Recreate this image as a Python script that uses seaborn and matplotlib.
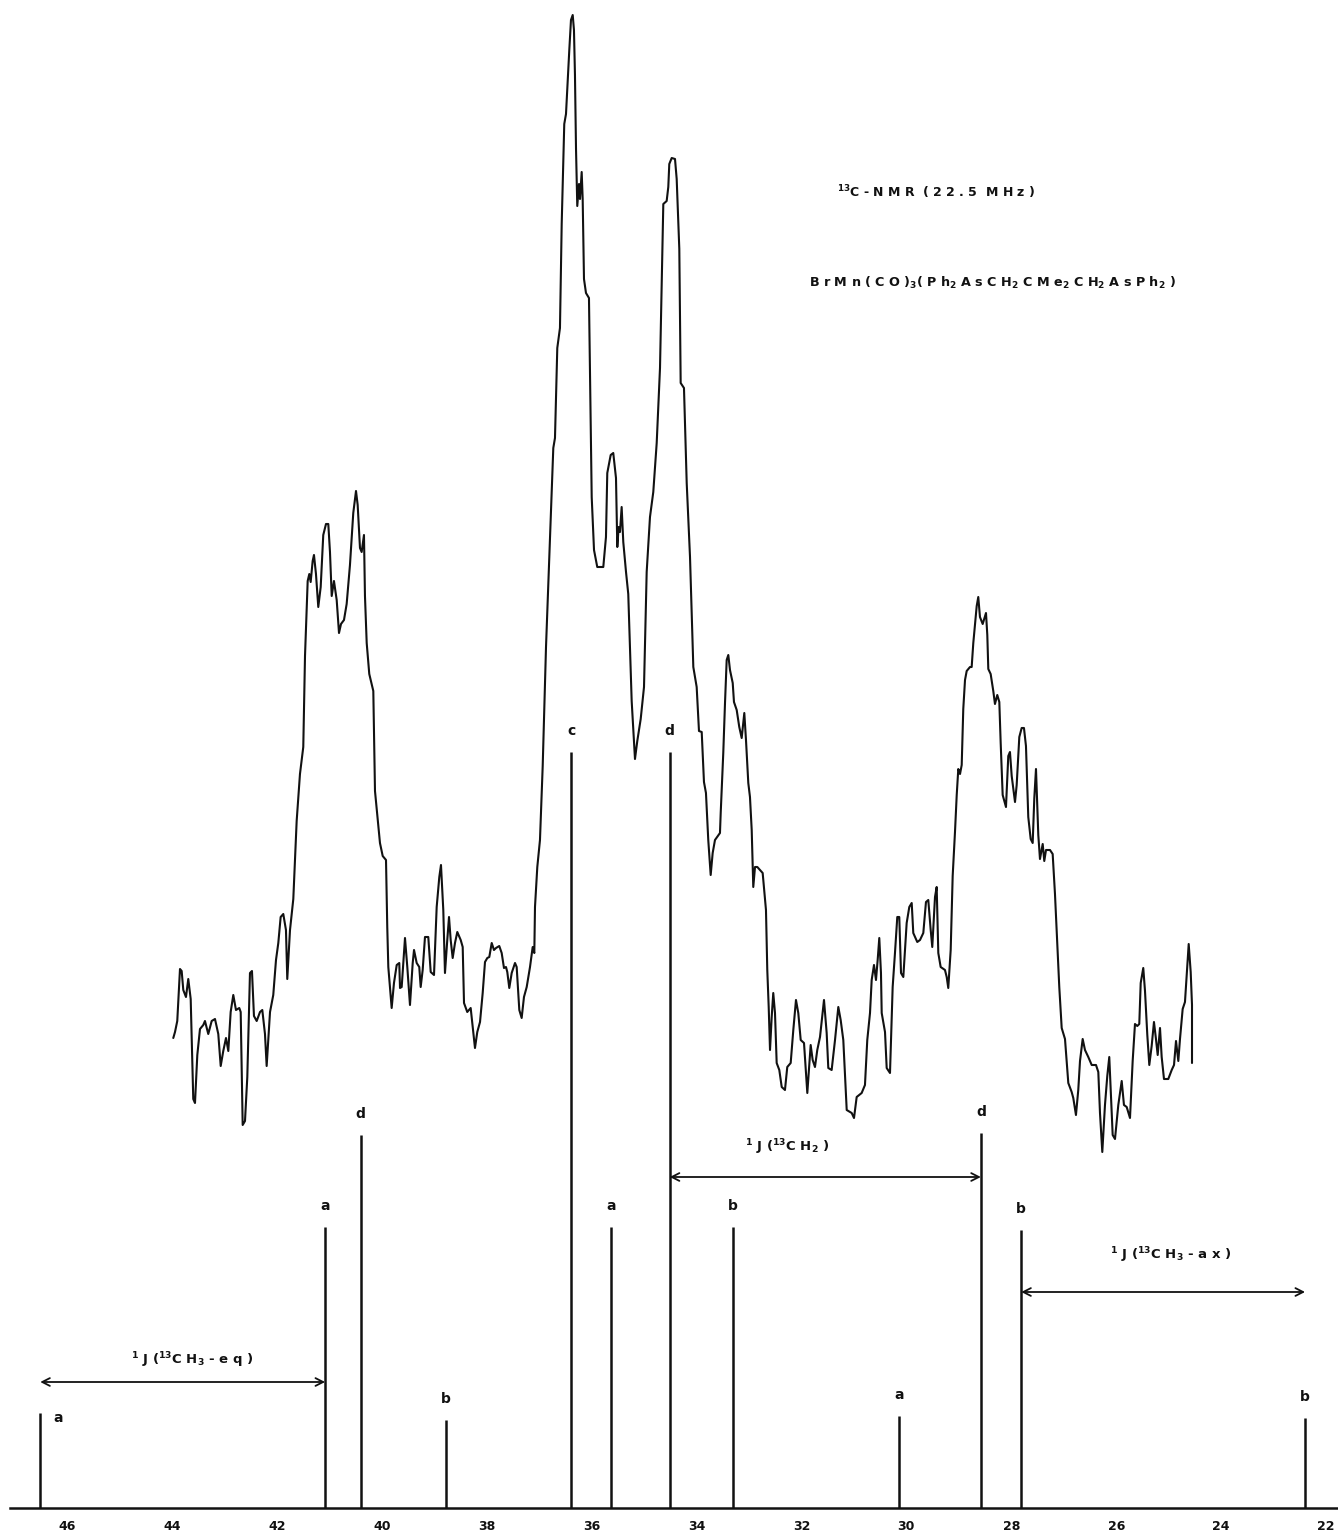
import numpy as np
import pandas as pd
import matplotlib
matplotlib.use("Agg")
import matplotlib.pyplot as plt
import seaborn as sns

# ---------------------------------------------------------------------------
# 13C-NMR trace of BrMn(CO)3(Ph2AsCH2CMe2CH2AsPh2), chemical shift in ppm
# ---------------------------------------------------------------------------
trace_ppm = [
    43.974, 43.941, 43.898, 43.846, 43.814, 43.783, 43.732, 43.688, 43.642, 43.593,
    43.560, 43.516, 43.465, 43.402, 43.370, 43.307, 43.242, 43.179, 43.116, 43.070,
    43.021, 42.969, 42.925, 42.880, 42.830, 42.779, 42.716, 42.689, 42.651, 42.607,
    42.563, 42.512, 42.474, 42.436, 42.384, 42.321, 42.277, 42.226, 42.194, 42.155,
    42.130, 42.068, 42.016, 41.972, 41.927, 41.877, 41.826, 41.801, 41.749, 41.686,
    41.622, 41.559, 41.496, 41.463, 41.412, 41.381, 41.355, 41.317, 41.292, 41.254,
    41.210, 41.164, 41.115, 41.063, 41.019, 40.987, 40.954, 40.911, 40.859, 40.815,
    40.777, 40.720, 40.669, 40.606, 40.543, 40.491, 40.459, 40.415, 40.383, 40.339,
    40.320, 40.287, 40.238, 40.161, 40.129, 40.034, 39.982, 39.919, 39.895, 39.875,
    39.811, 39.767, 39.715, 39.666, 39.652, 39.620, 39.557, 39.513, 39.462, 39.410,
    39.385, 39.334, 39.285, 39.258, 39.220, 39.176, 39.113, 39.067, 39.004, 38.953,
    38.903, 38.871, 38.827, 38.795, 38.751, 38.718, 38.686, 38.648, 38.604, 38.560,
    38.495, 38.457, 38.432, 38.370, 38.305, 38.267, 38.223, 38.179, 38.127, 38.076,
    38.032, 37.988, 37.950, 37.904, 37.861, 37.822, 37.760, 37.714, 37.670, 37.632,
    37.607, 37.569, 37.523, 37.460, 37.428, 37.378, 37.333, 37.289, 37.237, 37.174,
    37.123, 37.092, 37.079, 37.035, 36.984, 36.932, 36.869, 36.806, 36.730, 36.698,
    36.654, 36.603, 36.570, 36.521, 36.488, 36.425, 36.393, 36.360, 36.336, 36.317,
    36.297, 36.273, 36.240, 36.221, 36.189, 36.170, 36.145, 36.107, 36.050, 36.017,
    35.998, 35.954, 35.892, 35.777, 35.726, 35.701, 35.636, 35.587, 35.535, 35.510,
    35.484, 35.459, 35.427, 35.396, 35.344, 35.301, 35.236, 35.173, 35.129, 35.064,
    35.001, 34.950, 34.887, 34.824, 34.759, 34.696, 34.633, 34.569, 34.538, 34.519,
    34.473, 34.410, 34.378, 34.328, 34.302, 34.239, 34.187, 34.124, 34.061, 33.997,
    33.953, 33.901, 33.858, 33.820, 33.776, 33.730, 33.692, 33.648, 33.553, 33.539,
    33.490, 33.457, 33.425, 33.394, 33.362, 33.310, 33.286, 33.234, 33.185, 33.139,
    33.089, 33.057, 33.013, 32.981, 32.948, 32.918, 32.885, 32.841, 32.739, 32.676,
    32.651, 32.624, 32.599, 32.567, 32.537, 32.504, 32.472, 32.422, 32.376, 32.314,
    32.270, 32.205, 32.155, 32.104, 32.060, 32.014, 31.951, 31.888, 31.824, 31.786,
    31.742, 31.698, 31.646, 31.570, 31.519, 31.488, 31.424, 31.360, 31.297, 31.252,
    31.202, 31.137, 31.042, 30.998, 30.947, 30.852, 30.789, 30.745, 30.693, 30.661,
    30.617, 30.579, 30.547, 30.516, 30.484, 30.470, 30.407, 30.375, 30.312, 30.261,
    30.217, 30.173, 30.135, 30.102, 30.058, 29.994, 29.944, 29.898, 29.868, 29.792,
    29.740, 29.677, 29.626, 29.582, 29.536, 29.506, 29.454, 29.422, 29.391, 29.346,
    29.264, 29.231, 29.201, 29.155, 29.117, 29.073, 29.040, 29.010, 28.977, 28.945,
    28.915, 28.882, 28.850, 28.787, 28.755, 28.724, 28.659, 28.629, 28.597, 28.545,
    28.482, 28.457, 28.438, 28.393, 28.343, 28.311, 28.267, 28.228, 28.202, 28.164,
    28.101, 28.057, 28.025, 27.992, 27.929, 27.897, 27.847, 27.802, 27.758, 27.720,
    27.676, 27.630, 27.592, 27.561, 27.529, 27.485, 27.453, 27.401, 27.371, 27.338,
    27.262, 27.211, 27.167, 27.135, 27.085, 27.039, 26.976, 26.913, 26.849, 26.818,
    26.767, 26.723, 26.690, 26.639, 26.595, 26.532, 26.467, 26.385, 26.341, 26.309,
    26.265, 26.214, 26.170, 26.132, 26.105, 26.067, 26.023, 25.960, 25.895, 25.852,
    25.800, 25.737, 25.686, 25.642, 25.598, 25.560, 25.533, 25.484, 25.451, 25.407,
    25.369, 25.324, 25.280, 25.242, 25.209, 25.165, 25.133, 25.089, 25.007, 24.942,
    24.898, 24.860, 24.816, 24.784, 24.733, 24.689, 24.645, 24.618, 24.580, 24.555,
    24.555,
]

trace_intensity = [
    47.0, 47.6, 48.7, 53.9, 53.7, 51.8, 51.1, 52.9, 50.9, 40.9,
    40.5, 45.3, 47.9, 48.3, 48.7, 47.4, 48.7, 48.9, 47.4, 44.2,
    45.7, 47.0, 45.7, 49.6, 51.3, 49.8, 50.0, 49.6, 38.3, 38.7,
    43.1, 53.5, 53.7, 49.2, 48.7, 49.6, 49.8, 47.4, 44.2, 47.4,
    49.6, 51.3, 54.8, 56.5, 59.1, 59.4, 57.8, 52.9, 57.8, 60.9,
    68.7, 73.4, 76.1, 85.2, 92.7, 93.4, 92.6, 94.7, 95.3, 93.4,
    90.1, 92.1, 97.3, 98.4, 98.4, 95.6, 91.2, 92.7, 90.8, 87.5,
    88.4, 88.8, 90.4, 94.3, 99.5, 101.7, 100.3, 96.0, 95.6, 97.3,
    91.2, 86.5, 83.4, 81.7, 71.7, 66.5, 65.2, 64.8, 58.1, 54.1,
    50.0, 52.5, 54.3, 54.5, 52.0, 52.1, 57.0, 54.1, 50.3, 54.5,
    55.8, 54.5, 54.1, 52.1, 53.8, 57.1, 57.1, 53.6, 53.3, 60.1,
    63.1, 64.3, 59.8, 53.5, 56.8, 59.1, 56.8, 55.0, 56.5, 57.6,
    56.8, 56.1, 50.5, 49.6, 50.0, 48.1, 46.0, 47.6, 48.6, 51.5,
    54.6, 55.0, 55.1, 56.5, 55.8, 56.0, 56.2, 55.5, 54.0, 54.1,
    53.6, 52.0, 53.5, 54.5, 54.1, 49.8, 49.0, 51.1, 52.1, 54.1,
    56.1, 55.5, 60.1, 64.1, 66.8, 74.2, 86.1, 95.1, 106.0, 107.0,
    116.0, 118.0, 128.4, 138.4, 139.4, 145.8, 148.8, 149.3, 147.8, 143.3,
    135.9, 130.2, 132.4, 130.9, 133.6, 130.9, 122.9, 121.5, 121.0, 108.5,
    101.1, 95.8, 94.1, 94.1, 97.1, 103.5, 105.3, 105.5, 103.0, 96.1,
    98.1, 97.6, 100.1, 96.6, 93.6, 91.4, 80.7, 74.9, 76.7, 78.9,
    82.1, 93.6, 99.1, 101.6, 106.5, 114.0, 130.4, 130.7, 132.1, 134.4,
    135.0, 134.9, 132.9, 125.9, 112.5, 112.0, 102.5, 95.1, 84.1, 82.1,
    77.7, 77.6, 72.6, 71.5, 66.8, 63.3, 65.5, 66.8, 67.5, 69.5,
    75.5, 80.5, 84.8, 85.3, 83.8, 82.5, 80.6, 79.8, 78.1, 77.0,
    79.5, 76.8, 72.5, 71.1, 67.8, 62.1, 64.1, 64.1, 63.5, 59.8,
    53.8, 50.1, 45.8, 49.1, 51.5, 49.5, 44.5, 43.8, 42.1, 41.8,
    44.1, 44.5, 47.8, 50.8, 49.5, 46.8, 46.5, 41.5, 46.3, 44.8,
    44.1, 45.8, 47.1, 50.8, 47.5, 44.0, 43.8, 46.8, 50.1, 48.8,
    46.8, 39.8, 39.5, 39.0, 41.1, 41.5, 42.3, 46.8, 49.5, 52.8,
    54.3, 52.8, 54.8, 57.0, 53.5, 49.5, 47.6, 44.0, 43.5, 52.1,
    55.5, 59.1, 59.1, 53.5, 53.1, 58.5, 60.1, 60.5, 57.5, 56.6,
    56.8, 57.5, 60.6, 60.8, 57.8, 56.1, 61.1, 62.1, 55.5, 54.1,
    53.8, 53.1, 52.0, 55.8, 63.2, 67.6, 71.3, 73.9, 73.4, 74.3,
    79.9, 82.8, 83.7, 84.1, 84.1, 86.5, 90.2, 91.1, 89.1, 88.4,
    89.5, 87.3, 83.9, 83.4, 81.7, 80.4, 81.3, 80.6, 76.5, 71.3,
    70.1, 75.2, 75.6, 73.2, 70.6, 72.3, 77.1, 78.0, 78.0, 76.2,
    69.1, 66.9, 66.5, 71.0, 73.9, 67.3, 64.9, 66.4, 64.7, 65.8,
    65.8, 65.4, 61.4, 57.7, 52.1, 48.0, 46.9, 42.5, 41.6, 41.0,
    39.3, 41.8, 44.7, 46.9, 45.8, 45.1, 44.3, 44.3, 43.6, 39.5,
    35.6, 40.3, 43.2, 45.1, 41.8, 37.3, 36.9, 40.3, 42.7, 40.3,
    40.1, 39.0, 44.7, 48.4, 48.2, 48.4, 52.5, 54.0, 51.7, 47.3,
    44.3, 46.2, 48.6, 46.9, 45.3, 48.0, 45.1, 42.9, 42.9, 43.8,
    44.3, 46.7, 44.7, 46.9, 49.9, 50.6, 54.3, 56.4, 53.6, 50.3,
    44.5,
]

# Stick spectrum: computed line positions, heights and assignments
stick_ppm = [46.51, 41.08, 40.40, 38.78, 36.39, 35.63, 34.51, 33.30, 30.14, 28.58, 27.81, 22.40]
stick_height = [9.5, 28.1, 37.3, 8.8, 75.6, 28.1, 75.6, 28.1, 9.2, 37.5, 27.8, 9.0]
stick_label = ["a", "a", "d", "b", "c", "a", "d", "b", "a", "d", "b", "b"]

# One-bond couplings marked between satellite lines
coupling_from = [46.51, 34.51, 27.81]
coupling_to = [41.08, 28.58, 22.40]
coupling_level = [12.6, 33.1, 21.6]
coupling_text = [
    "$^{1}$ J ($^{1 3}$C H$_{3}$ - e q )",
    "$^{1}$ J ($^{1 3}$C H$_{2}$ )",
    "$^{1}$ J ($^{1 3}$C H$_{3}$ - a x )",
]
coupling_text_pos = [(43.62, 14.8), (32.28, 36.1), (24.96, 25.3)]

tick_values = list(range(46, 21, -2))

# ---------------------------------------------------------------------------
sns.set_style("white")
plt.rcParams["font.family"] = ["DejaVu Sans"]
plt.rcParams["mathtext.default"] = "regular"

W, H = 1338, 1537
fig = plt.figure(figsize=(W / 100, H / 100), dpi=100)
fig.patch.set_facecolor("white")

base_px = 1508
ax = fig.add_axes([0, (H - base_px) / H, 1, base_px / H])
ax.set_facecolor("white")

df = pd.DataFrame({"shift": trace_ppm, "intensity": trace_intensity})
sns.lineplot(data=df, x="shift", y="intensity", sort=False, estimator=None,
             color="#111111", linewidth=1.5, ax=ax)

ax.vlines(stick_ppm, 0, stick_height, colors="#111111", linewidth=1.8)

# assignment letters above the sticks (first one sits beside its line)
for i, (p, h, lab) in enumerate(zip(stick_ppm, stick_height, stick_label)):
    if i == 0:
        ax.text(p - 0.34, h - 0.5, lab, ha="center", va="center",
                fontsize=10, fontweight="bold", color="#111111")
    else:
        ax.text(p, h + 2.1, lab, ha="center", va="center",
                fontsize=10, fontweight="bold", color="#111111")

for p0, p1, lvl, txt, (tx, ty) in zip(coupling_from, coupling_to, coupling_level,
                                      coupling_text, coupling_text_pos):
    ax.annotate("", xy=(p1, lvl), xytext=(p0, lvl),
                arrowprops=dict(arrowstyle="<->,head_length=0.55,head_width=0.28",
                                lw=1.3, color="#111111", shrinkA=0, shrinkB=0))
    ax.text(tx, ty, txt, ha="center", va="center", fontsize=9.5,
            fontweight="bold", color="#111111")

x_left = 47.277
x_right = 21.772
ax.set_xlim(x_left, x_right)
ax.set_ylim(0, base_px / 10)

ax.set_xticks(tick_values)
ax.set_xticklabels([str(v) for v in tick_values], fontsize=9, fontweight="bold",
                   color="#111111")
ax.set_yticks([])
ax.tick_params(axis="x", direction="in", length=6.5, width=1.4, pad=8.5,
               color="#111111")
ax.set_xlabel("")
ax.set_ylabel("")
for side in ("top", "left", "right"):
    ax.spines[side].set_visible(False)
ax.spines["bottom"].set_linewidth(1.8)
ax.spines["bottom"].set_color("#111111")
ax.spines["bottom"].set_bounds(47.09, x_right)

# headings
fig.text(837 / W, 1 - 192 / H, "$^{1 3}$C - N M R  ( 2 2 . 5  M H z )",
         ha="left", va="center", fontsize=9, fontweight="bold", color="#111111")
fig.text(809 / W, 1 - 283 / H,
         "B r M n ( C O )$_{3}$( P h$_{2}$ A s C H$_{2}$ C M e$_{2}$ C H$_{2}$ A s P h$_{2}$ )",
         ha="left", va="center", fontsize=9.2, fontweight="bold", color="#111111")

fig.savefig("out.png", dpi=100, facecolor="white")
